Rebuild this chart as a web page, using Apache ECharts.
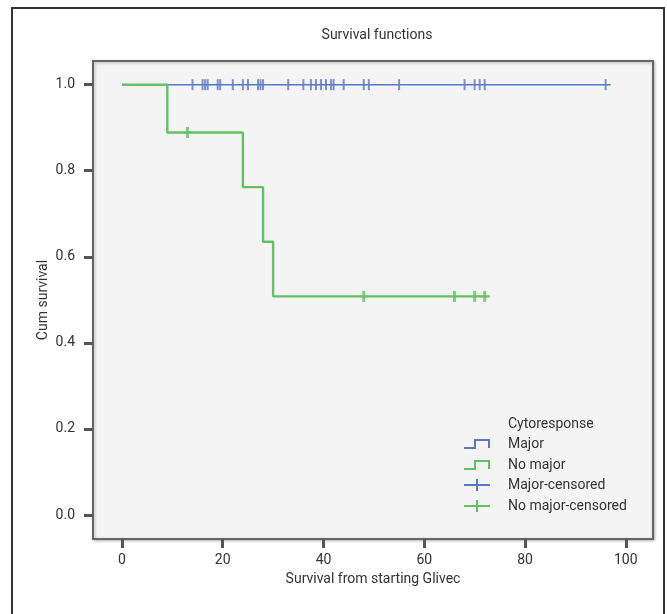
<!DOCTYPE html>
<html>
<head>
<meta charset="utf-8">
<script src="https://cdn.jsdelivr.net/npm/echarts@6/dist/echarts.min.js"></script>
<style>
html,body{margin:0;padding:0;background:#fff;}
#chart{width:667px;height:614px;}
</style>
</head>
<body>
<div id="chart"></div>
<script>
// ---- data ----
const xTicks = [0, 20, 40, 60, 80, 100];
const yTicks = [0.0, 0.2, 0.4, 0.6, 0.8, 1.0];
const seriesNames = ['Major', 'No major', 'Major-censored', 'No major-censored'];
const legendTitle = 'Cytoresponse';

// Major: no events, survival stays at 1.0
const majorEventTimes = [];
const majorSurvival = [];
const majorCensored = [14, 16, 16.5, 17, 19, 19.5, 22, 24, 25, 27, 27.5, 28, 33, 36, 37.5, 38.5, 39.5, 40.5, 41.5, 42, 44, 48, 49, 55, 68, 70, 71, 72, 96];
const majorEnd = 97;

// No major
const noMajorEventTimes = [9, 24, 28, 30];
const noMajorSurvival = [0.889, 0.762, 0.635, 0.508];
const noMajorCensored = [13, 48, 66, 70, 72];
const noMajorEnd = 73;

// ---- build step curves ----
function stepPoints(times, surv, end) {
  const pts = [[0, 1]];
  times.forEach((t, i) => pts.push([t, surv[i]]));
  const last = surv.length ? surv[surv.length - 1] : 1;
  pts.push([end, last]);
  return pts;
}
function survAt(times, surv, t) {
  let s = 1;
  times.forEach((tt, i) => { if (tt <= t) s = surv[i]; });
  return s;
}
const majorLine = stepPoints(majorEventTimes, majorSurvival, majorEnd);
const noMajorLine = stepPoints(noMajorEventTimes, noMajorSurvival, noMajorEnd);
const majorCens = majorCensored.map(t => [t, survAt(majorEventTimes, majorSurvival, t)]);
const noMajorCens = noMajorCensored.map(t => [t, survAt(noMajorEventTimes, noMajorSurvival, t)]);

const BLUE = '#5a78c6';
const GREEN = '#62c162';
const FONT = 'Roboto';
const FS = 14;
const TXT = '#333';

const chart = echarts.init(document.getElementById('chart'), null, {renderer: 'canvas'});

// legend (drawn as graphic: step icons and plus icons)
const lgX = 464, lgTextX = 508;
const rowsY = [444, 465, 485, 506];
function stepIcon(y, color) {
  return {
    type: 'polyline',
    shape: {points: [[lgX, y + 4], [lgX + 11, y + 4], [lgX + 11, y - 4], [lgX + 25, y - 4], [lgX + 25, y + 4]]},
    style: {stroke: color, lineWidth: 2, fill: null}
  };
}
function plusIcon(y, color) {
  return [
    {type: 'line', shape: {x1: lgX, y1: y, x2: lgX + 26, y2: y}, style: {stroke: color, lineWidth: 2}},
    {type: 'line', shape: {x1: lgX + 13, y1: y - 6, x2: lgX + 13, y2: y + 6}, style: {stroke: color, lineWidth: 2}}
  ];
}
const legendGraphics = [
  {type: 'text', x: lgTextX, y: 424, style: {text: legendTitle, fill: TXT, font: FS + 'px ' + FONT, textVerticalAlign: 'middle'}},
  stepIcon(rowsY[0], BLUE),
  stepIcon(rowsY[1], GREEN),
  ...plusIcon(rowsY[2], BLUE),
  ...plusIcon(rowsY[3], GREEN)
];
seriesNames.forEach((n, i) => {
  legendGraphics.push({type: 'text', x: lgTextX, y: rowsY[i], style: {text: n, fill: TXT, font: FS + 'px ' + FONT, textVerticalAlign: 'middle'}});
});

const option = {
  backgroundColor: '#fff',
  animation: false,
  textStyle: {fontFamily: FONT},
  title: {
    text: 'Survival functions',
    left: 372, top: 23, textAlign: 'center',
    textStyle: {fontFamily: FONT, fontSize: FS, fontWeight: 'normal', color: TXT}
  },
  grid: {
    left: 93, top: 61, right: 14, bottom: 75,
    show: true, backgroundColor: '#f4f4f4',
    borderColor: '#666', borderWidth: 2,
    shadowColor: 'rgba(0,0,0,0.25)', shadowBlur: 3, shadowOffsetX: 1, shadowOffsetY: 1
  },
  xAxis: {
    type: 'value', min: -5.75, max: 105.4,
    name: 'Survival from starting Glivec', nameLocation: 'middle', nameGap: 33, nameMoveOverlap: false,
    nameTextStyle: {fontFamily: FONT, fontSize: FS, color: TXT},
    axisLine: {show: false, onZero: false},
    axisTick: {show: true, customValues: xTicks, length: 9, lineStyle: {color: '#555', width: 3}},
    axisLabel: {customValues: xTicks, margin: 14, fontFamily: FONT, fontSize: FS, color: TXT},
    splitLine: {show: false}
  },
  yAxis: {
    type: 'value', min: -0.0557, max: 1.055,
    name: 'Cum survival', nameLocation: 'middle', nameGap: 43, nameMoveOverlap: false,
    nameTextStyle: {fontFamily: FONT, fontSize: FS, color: TXT},
    axisLine: {show: false, onZero: false},
    axisTick: {show: true, customValues: yTicks, length: 9, lineStyle: {color: '#555', width: 3}},
    axisLabel: {customValues: yTicks, margin: 18, fontFamily: FONT, fontSize: FS, color: TXT,
      formatter: v => Number(v).toFixed(1)},
    splitLine: {show: false}
  },
  series: [
    {name: 'Major', type: 'line', step: 'end', data: majorLine, showSymbol: false, symbol: 'none',
      lineStyle: {color: BLUE, width: 1.5}, z: 2},
    {name: 'Major-censored', type: 'scatter', data: majorCens, symbol: 'rect', symbolSize: [2, 11],
      itemStyle: {color: BLUE}, z: 3},
    {name: 'No major', type: 'line', step: 'end', data: noMajorLine, showSymbol: false, symbol: 'none',
      lineStyle: {color: GREEN, width: 2.4}, z: 4},
    {name: 'No major-censored', type: 'scatter', data: noMajorCens, symbol: 'rect', symbolSize: [3, 11],
      itemStyle: {color: GREEN}, z: 5}
  ],
  graphic: [
    {type: 'rect', shape: {x: 12, y: 8, width: 652, height: 640}, style: {fill: null, stroke: '#333', lineWidth: 2}, z: -1},
    ...legendGraphics
  ]
};
chart.setOption(option);
</script>
</body>
</html>
